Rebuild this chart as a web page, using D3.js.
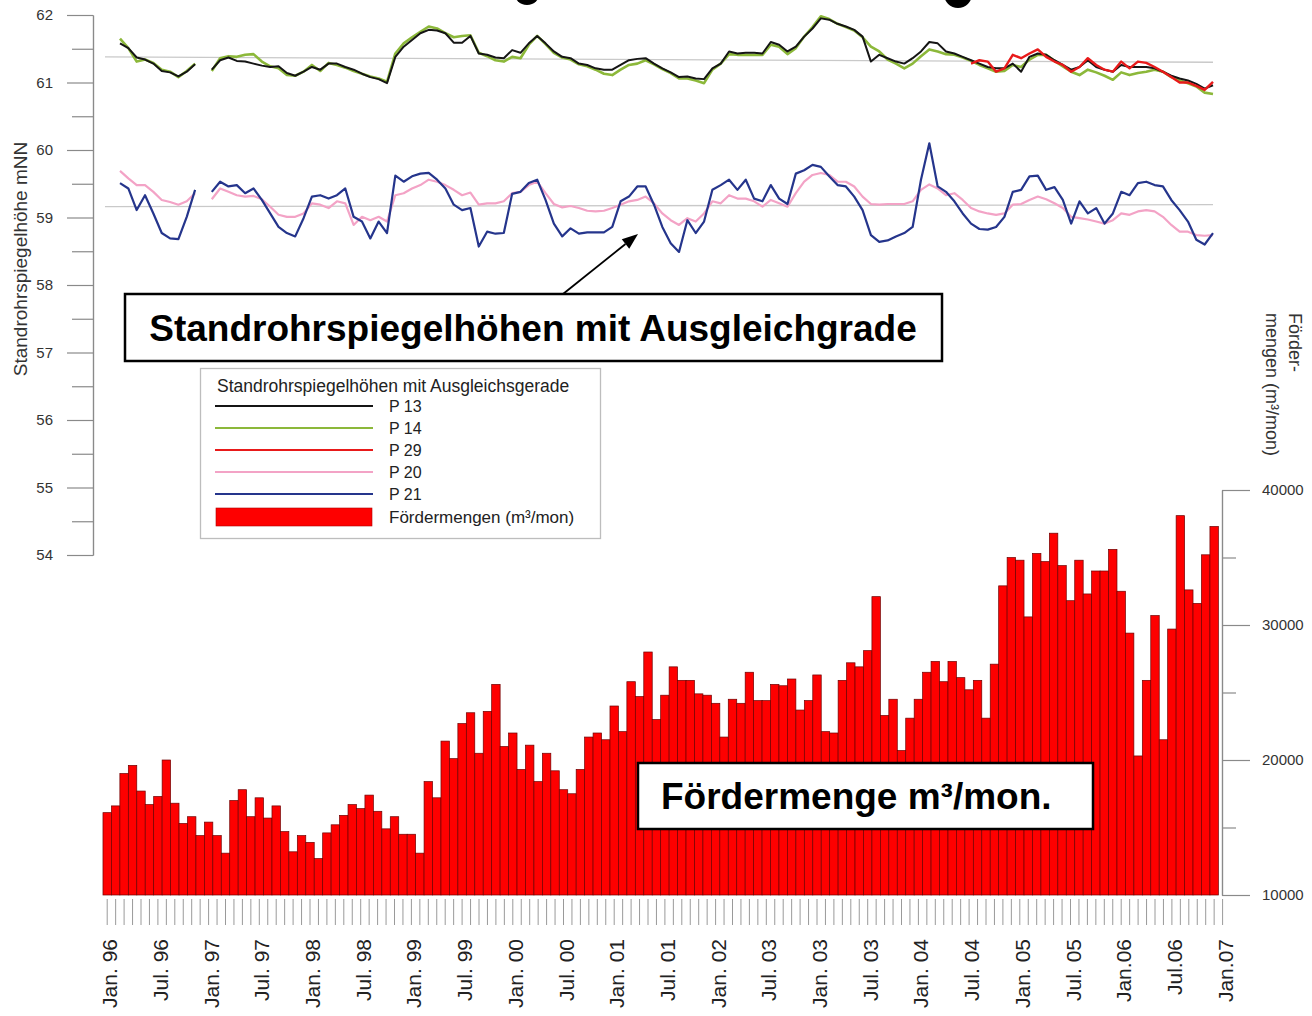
<!DOCTYPE html>
<html>
<head>
<meta charset="utf-8">
<script src="https://cdn.jsdelivr.net/npm/d3@7"></script>
<style>
  body { margin: 0; background: #fff; }
  svg { display: block; font-family: "Liberation Sans", Arial, Helvetica, sans-serif; }
</style>
</head>
<body>
<div id="chart"></div>
<script>
// month index 0 = Jan. 96, 131 = Dec. 06
const monthLabels = [
  "Jan. 96", "Jul. 96", "Jan. 97", "Jul. 97", "Jan. 98", "Jul. 98",
  "Jan. 99", "Jul. 99", "Jan. 00", "Jul. 00", "Jan. 01", "Jul. 01",
  "Jan. 02", "Jul. 03", "Jan. 03", "Jul. 03", "Jan. 04", "Jul. 04",
  "Jan. 05", "Jul. 05", "Jan.06", "Jul.06", "Jan.07"
];

const levelTicks = [54, 55, 56, 57, 58, 59, 60, 61, 62];
const flowTicks = [10000, 20000, 30000, 40000];

// Standrohrspiegelhöhen (mNN), monthly
const p13 = [
  61.58, 61.51, 61.37, 61.34, 61.28, 61.17, 61.15, 61.09, 61.16, 61.27, null, 61.19,
  61.33, 61.37, 61.32, 61.31, 61.28, 61.25, 61.23, 61.24, 61.14, 61.10, 61.16, 61.23,
  61.19, 61.28, 61.28, 61.23, 61.19, 61.13, 61.08, 61.05, 60.99, 61.38, 61.53, 61.63,
  61.73, 61.78, 61.77, 61.73, 61.59, 61.59, 61.69, 61.43, 61.41, 61.37, 61.36, 61.48,
  61.44, 61.58, 61.69, 61.58, 61.46, 61.38, 61.36, 61.28, 61.26, 61.21, 61.19, 61.19,
  61.26, 61.33, 61.35, 61.36, 61.28, 61.21, 61.15, 61.08, 61.09, 61.06, 61.05, 61.21,
  61.28, 61.46, 61.43, 61.44, 61.44, 61.43, 61.60, 61.56, 61.46, 61.53, 61.68, 61.80,
  61.95, 61.93, 61.87, 61.83, 61.78, 61.68, 61.31, 61.41, 61.36, 61.31, 61.28, 61.36,
  61.46, 61.60, 61.58, 61.46, 61.43, 61.38, 61.33, 61.28, 61.23, 61.21, 61.21, 61.28,
  61.16, 61.38, 61.43, 61.41, 61.33, 61.26, 61.19, 61.23, 61.33, 61.23, 61.19, 61.16,
  61.26, 61.23, 61.23, 61.23, 61.21, 61.16, 61.10, 61.06, 61.03, 60.98, 60.91, 60.96
];
const p14 = [
  61.65, 61.51, 61.31, 61.34, 61.29, 61.19, 61.16, 61.08, 61.17, 61.28, null, 61.17,
  61.36, 61.39, 61.38, 61.41, 61.42, 61.31, 61.24, 61.21, 61.11, 61.10, 61.16, 61.26,
  61.17, 61.29, 61.26, 61.22, 61.17, 61.13, 61.09, 61.06, 61.01, 61.43, 61.58, 61.67,
  61.75, 61.83, 61.80, 61.73, 61.67, 61.69, 61.70, 61.44, 61.39, 61.33, 61.31, 61.38,
  61.36, 61.56, 61.69, 61.57, 61.44, 61.37, 61.34, 61.27, 61.24, 61.19, 61.13, 61.11,
  61.19, 61.26, 61.28, 61.33, 61.27, 61.20, 61.14, 61.06, 61.06, 61.03, 60.99, 61.19,
  61.28, 61.42, 61.41, 61.41, 61.41, 61.41, 61.56, 61.53, 61.42, 61.51, 61.68, 61.82,
  61.98, 61.94, 61.87, 61.82, 61.77, 61.67, 61.53, 61.46, 61.34, 61.28, 61.21, 61.28,
  61.39, 61.49, 61.46, 61.42, 61.41, 61.37, 61.32, 61.26, 61.21, 61.16, 61.17, 61.26,
  61.23, 61.34, 61.41, 61.41, 61.32, 61.24, 61.16, 61.11, 61.19, 61.15, 61.10, 61.04,
  61.15, 61.11, 61.14, 61.16, 61.19, 61.16, 61.08, 61.03, 60.99, 60.94, 60.85, 60.83
];
// P 29 starts in Jul. 04 (month 102)
const p29Start = 102;
const p29 = [
  61.28, 61.33, 61.31, 61.16, 61.21, 61.41, 61.36, 61.43, 61.49, 61.38, 61.31, 61.26,
  61.16, 61.23, 61.36, 61.26, 61.19, 61.16, 61.31, 61.21, 61.31, 61.29, 61.23, 61.16,
  61.08, 61.00, 61.00, 60.95, 60.89, 61.01
];
const p20 = [
  59.69, 59.58, 59.48, 59.48, 59.38, 59.26, 59.23, 59.19, 59.24, 59.36, null, 59.27,
  59.43, 59.38, 59.33, 59.31, 59.32, 59.27, 59.16, 59.04, 59.01, 59.01, 59.06, 59.21,
  59.19, 59.14, 59.24, 59.21, 58.89, 59.01, 58.96, 59.01, 58.94, 59.33, 59.36, 59.43,
  59.48, 59.56, 59.53, 59.48, 59.41, 59.33, 59.37, 59.19, 59.21, 59.21, 59.24, 59.36,
  59.38, 59.48, 59.53, 59.36, 59.20, 59.15, 59.17, 59.14, 59.10, 59.09, 59.10, 59.14,
  59.19, 59.24, 59.26, 59.31, 59.21, 59.06, 58.96, 58.89, 58.99, 58.94, 59.06, 59.24,
  59.21, 59.33, 59.28, 59.28, 59.24, 59.16, 59.26, 59.21, 59.16, 59.36, 59.53, 59.63,
  59.66, 59.63, 59.53, 59.53, 59.46, 59.31, 59.20, 59.19, 59.20, 59.20, 59.20, 59.24,
  59.41, 59.49, 59.43, 59.33, 59.36, 59.26, 59.14, 59.09, 59.06, 59.04, 59.06, 59.19,
  59.20, 59.26, 59.31, 59.27, 59.21, 59.14, 59.01, 58.99, 58.97, 58.94, 58.91, 58.96,
  59.06, 59.04, 59.09, 59.11, 59.09, 59.01, 58.89, 58.79, 58.79, 58.74, 58.73, 58.74
];
const p21 = [
  59.51, 59.43, 59.11, 59.33, 59.06, 58.77, 58.69, 58.68, 59.01, 59.41, null, 59.38,
  59.53, 59.46, 59.48, 59.36, 59.43, 59.26, 59.06, 58.86, 58.77, 58.72, 58.99, 59.31,
  59.33, 59.28, 59.33, 59.43, 59.01, 58.94, 58.69, 58.94, 58.77, 59.62, 59.53, 59.61,
  59.65, 59.66, 59.56, 59.43, 59.19, 59.11, 59.14, 58.57, 58.79, 58.76, 58.77, 59.35,
  59.38, 59.51, 59.56, 59.26, 58.91, 58.72, 58.84, 58.76, 58.78, 58.78, 58.78, 58.86,
  59.24, 59.31, 59.46, 59.46, 59.19, 58.86, 58.62, 58.49, 58.96, 58.77, 58.94, 59.41,
  59.48, 59.56, 59.41, 59.56, 59.28, 59.24, 59.48, 59.28, 59.20, 59.65, 59.70, 59.78,
  59.75, 59.61, 59.48, 59.46, 59.31, 59.11, 58.74, 58.64, 58.66, 58.72, 58.77, 58.86,
  59.56, 60.10, 59.46, 59.38, 59.24, 59.06, 58.91, 58.83, 58.82, 58.86, 59.01, 59.38,
  59.41, 59.61, 59.62, 59.41, 59.45, 59.26, 58.91, 59.24, 59.06, 59.14, 58.91, 59.06,
  59.38, 59.33, 59.51, 59.53, 59.48, 59.46, 59.26, 59.11, 58.94, 58.67, 58.60, 58.77
];

// Ausgleichsgeraden: [start, end] values over trendMonths
const trendMonths = [-1.8, 131];
const trendUpper = [61.38, 61.30];
const trendLower = [59.16, 59.19];

// Fördermengen m³/mon, monthly
const flow = [
  16100, 16600, 19000, 19600, 17700, 16700, 17300, 20000, 16800, 15300, 15800, 14400,
  15400, 14400, 13100, 17000, 17800, 15800, 17200, 15700, 16600, 14700, 13200, 14400,
  13900, 12700, 14600, 15200, 15900, 16700, 16400, 17400, 16200, 14900, 15800, 14500,
  14500, 13100, 18400, 17200, 21400, 20100, 22700, 23500, 20500, 23600, 25600, 21000,
  22000, 19300, 21100, 18400, 20500, 19200, 17800, 17500, 19300, 21700, 22000, 21500,
  24000, 22100, 25800, 24700, 28000, 23000, 24800, 26900, 25900, 25900, 24900, 24800,
  24200, 21700, 24500, 24200, 26500, 24400, 24400, 25600, 25500, 26000, 23700, 24400,
  26300, 22100, 22000, 25900, 27200, 26900, 28100, 32100, 23300, 24500, 20700, 23100,
  24500, 26500, 27300, 25800, 27300, 26100, 25200, 25900, 23100, 27100, 32900, 35000,
  34800, 30600, 35300, 34700, 36800, 34400, 31800, 34800, 32300, 34000, 34000, 35600,
  32500, 29400, 20300, 25900, 30700, 21500, 29700, 38100, 32600, 31600, 35200, 37300
];

const legendItems = [
  { name: "P 13", color: "#151515" },
  { name: "P 14", color: "#8cb83a" },
  { name: "P 29", color: "#e81a1a" },
  { name: "P 20", color: "#f3a3c6" },
  { name: "P 21", color: "#25358c" }
];

const W = 1312, H = 1016;
const svg = d3.select("#chart").append("svg").attr("width", W).attr("height", H);

// scales
const xBar = d3.scaleLinear().domain([0, 132]).range([107.2, 1222.6]);
const step = xBar(1) - xBar(0);
const xLine = d3.scaleLinear().domain([0, 131]).range([120, 1213]);
const yLevel = d3.scaleLinear().domain([54, 62]).range([555, 15]);
const yFlow = d3.scaleLinear().domain([10000, 40000]).range([895, 490]);

// cut-off title remnants at the top
svg.append("circle").attr("cx", 527).attr("cy", -8).attr("r", 13).attr("fill", "#000");
svg.append("circle").attr("cx", 958).attr("cy", -6).attr("r", 14).attr("fill", "#000");

// ---- bars
svg.append("g")
  .selectAll("rect")
  .data(flow)
  .join("rect")
  .attr("x", (d, i) => xBar(i) - step / 2)
  .attr("width", step)
  .attr("y", (d) => yFlow(d))
  .attr("height", (d) => yFlow(10000) - yFlow(d))
  .attr("fill", "#fe0000")
  .attr("stroke", "#6e0000")
  .attr("stroke-width", 0.7);

// month ticks under bars
svg.append("g")
  .selectAll("line")
  .data(d3.range(133))
  .join("line")
  .attr("x1", (d) => xBar(d))
  .attr("x2", (d) => xBar(d))
  .attr("y1", 899)
  .attr("y2", 925)
  .attr("stroke", "#9a9a9a")
  .attr("stroke-width", 1);

svg.append("g")
  .selectAll("text")
  .data(monthLabels)
  .join("text")
  .attr("transform", (d, i) => `translate(${xBar(i * 6) + 10},939) rotate(-90)`)
  .attr("text-anchor", "end")
  .attr("font-size", 21)
  .attr("fill", "#222")
  .text((d) => d);

// ---- left axis
function styleAxis(g) {
  g.select(".domain").attr("stroke", "#8a8a8a").attr("stroke-width", 1.2);
  g.selectAll(".tick line").attr("stroke", "#8a8a8a").attr("stroke-width", 1.2);
  g.selectAll(".tick text").attr("fill", "#333").attr("font-size", 15)
    .attr("font-family", "Liberation Sans, Arial, sans-serif");
}

const leftAxis = svg.append("g")
  .attr("transform", "translate(93,0)")
  .call(d3.axisLeft(yLevel).tickValues(levelTicks).tickSize(26).tickPadding(14).tickSizeOuter(0));
styleAxis(leftAxis);
const leftMinor = svg.append("g")
  .attr("transform", "translate(93,0)")
  .call(d3.axisLeft(yLevel).tickValues(d3.range(54.5, 62, 1)).tickSize(21).tickFormat("").tickSizeOuter(0));
styleAxis(leftMinor);

svg.append("text")
  .attr("transform", "translate(27,259) rotate(-90)")
  .attr("text-anchor", "middle")
  .attr("font-size", 19)
  .attr("fill", "#333")
  .text("Standrohrspiegelhöhe mNN");

// ---- right axis
const rightAxis = svg.append("g")
  .attr("transform", "translate(1222,0)")
  .call(d3.axisRight(yFlow).tickValues(flowTicks).tickFormat(d3.format("d"))
    .tickSize(28).tickPadding(12).tickSizeOuter(0));
styleAxis(rightAxis);
const rightMinor = svg.append("g")
  .attr("transform", "translate(1222,0)")
  .call(d3.axisRight(yFlow).tickValues([15000, 25000, 35000]).tickSize(14).tickFormat("").tickSizeOuter(0));
styleAxis(rightMinor);

svg.append("text")
  .attr("transform", "translate(1289,313) rotate(90)")
  .attr("font-size", 18)
  .attr("fill", "#333")
  .text("Förder-");
svg.append("text")
  .attr("transform", "translate(1266,313) rotate(90)")
  .attr("font-size", 18)
  .attr("fill", "#333")
  .text("mengen (m³/mon)");

// ---- Ausgleichsgeraden
const trendLine = d3.line()
  .x((d) => xLine(d[0]))
  .y((d) => yLevel(d[1]));
[trendUpper, trendLower].forEach((t) => {
  svg.append("path")
    .attr("d", trendLine(trendMonths.map((m, i) => [m, t[i]])))
    .attr("fill", "none")
    .attr("stroke", "#c9c9c9")
    .attr("stroke-width", 1.3);
});

// ---- water level lines
const levelLine = d3.line()
  .defined((d) => d != null)
  .x((d, i) => xLine(i))
  .y((d) => yLevel(d));

const p29Full = d3.range(132).map((i) => (i < p29Start ? null : p29[i - p29Start]));

const series = [
  { values: p20, color: legendItems[3].color, width: 2.2 },
  { values: p21, color: legendItems[4].color, width: 2.2 },
  { values: p14, color: legendItems[1].color, width: 2.6 },
  { values: p13, color: legendItems[0].color, width: 2.0 },
  { values: p29Full, color: legendItems[2].color, width: 2.4 }
];

svg.append("g")
  .selectAll("path")
  .data(series)
  .join("path")
  .attr("d", (d) => levelLine(d.values))
  .attr("fill", "none")
  .attr("stroke", (d) => d.color)
  .attr("stroke-width", (d) => d.width)
  .attr("stroke-linejoin", "round");

// ---- annotation box with arrow
svg.append("rect")
  .attr("x", 125).attr("y", 294).attr("width", 817).attr("height", 67)
  .attr("fill", "#fff").attr("stroke", "#000").attr("stroke-width", 2.5);
svg.append("text")
  .attr("x", 533).attr("y", 341)
  .attr("text-anchor", "middle")
  .attr("font-size", 37).attr("font-weight", "bold")
  .text("Standrohrspiegelhöhen mit Ausgleichgrade");

const arrowFrom = [563, 294], arrowTo = [638, 234];
const dx = arrowTo[0] - arrowFrom[0], dy = arrowTo[1] - arrowFrom[1];
const len = Math.hypot(dx, dy);
const ux = dx / len, uy = dy / len;
const base = [arrowTo[0] - ux * 16, arrowTo[1] - uy * 16];
svg.append("line")
  .attr("x1", arrowFrom[0]).attr("y1", arrowFrom[1])
  .attr("x2", base[0]).attr("y2", base[1])
  .attr("stroke", "#000").attr("stroke-width", 1.8);
svg.append("path")
  .attr("d", `M${arrowTo[0]},${arrowTo[1]}L${base[0] - uy * 6},${base[1] + ux * 6}L${base[0] + uy * 6},${base[1] - ux * 6}Z`)
  .attr("fill", "#000");

// ---- legend
const legend = svg.append("g");
legend.append("rect")
  .attr("x", 200.5).attr("y", 368.5).attr("width", 400).attr("height", 170)
  .attr("fill", "#fff").attr("stroke", "#bdbdbd").attr("stroke-width", 1.3);
legend.append("text")
  .attr("x", 217).attr("y", 392)
  .attr("font-size", 17.5).attr("fill", "#222")
  .text("Standrohrspiegelhöhen mit Ausgleichsgerade");

const legendY = d3.scalePoint().domain(legendItems.map((d) => d.name)).range([406, 494]);
legendItems.forEach((d) => {
  legend.append("line")
    .attr("x1", 215).attr("x2", 373)
    .attr("y1", legendY(d.name)).attr("y2", legendY(d.name))
    .attr("stroke", d.color).attr("stroke-width", 2.2);
  legend.append("text")
    .attr("x", 389).attr("y", legendY(d.name) + 6)
    .attr("font-size", 16).attr("fill", "#222")
    .text(d.name);
});
legend.append("rect")
  .attr("x", 216).attr("y", 508).attr("width", 156).attr("height", 18)
  .attr("fill", "#fe0000").attr("stroke", "#b00000").attr("stroke-width", 0.6);
legend.append("text")
  .attr("x", 389).attr("y", 523)
  .attr("font-size", 17).attr("fill", "#222")
  .text("Fördermengen (m³/mon)");

// ---- Fördermenge label box
svg.append("rect")
  .attr("x", 638).attr("y", 763).attr("width", 455).attr("height", 66)
  .attr("fill", "#fff").attr("stroke", "#000").attr("stroke-width", 2.5);
svg.append("text")
  .attr("x", 661).attr("y", 809)
  .attr("font-size", 37).attr("font-weight", "bold")
  .text("Fördermenge m³/mon.");
</script>
</body>
</html>
